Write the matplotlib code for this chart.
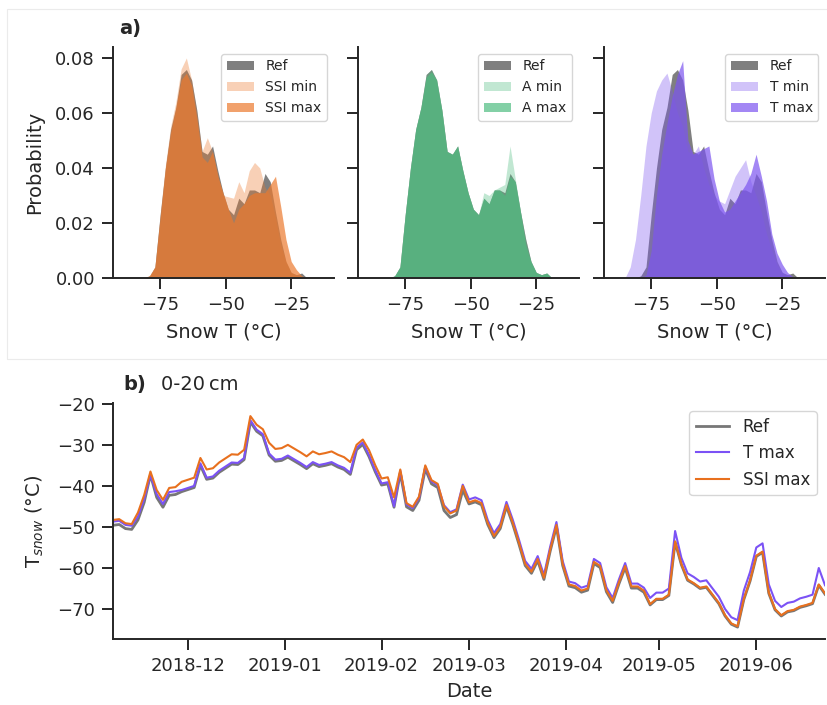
import numpy as np
import pandas as pd
import matplotlib
matplotlib.use("Agg")
import matplotlib.pyplot as plt
import matplotlib.dates as mdates
from matplotlib.patches import Rectangle

plt.rcParams['font.family'] = ['DejaVu Sans']
plt.rcParams['text.color'] = '#262626'
plt.rcParams['axes.labelcolor'] = '#262626'
plt.rcParams['xtick.color'] = '#262626'
plt.rcParams['ytick.color'] = '#262626'
plt.rcParams['axes.edgecolor'] = '#262626'

# --- histogram data (bin centres, probability) ---
bins = [-87, -85, -83, -81, -79, -77, -75, -73, -71, -69, -67, -65, -63, -61, -59, -57, -55, -53,
        -51, -49, -47, -45, -43, -41, -39, -37, -35, -33, -31, -29, -27, -25, -23, -21, -19, -17]

ref_hist = [0, 0, 0, 0, 0.0008, 0.004, 0.023, 0.040, 0.054, 0.062, 0.074, 0.0758, 0.072, 0.061, 0.046, 0.045, 0.048, 0.039,
            0.031, 0.025, 0.023, 0.029, 0.027, 0.032, 0.032, 0.031, 0.038, 0.035, 0.024, 0.014, 0.006, 0.002, 0.0012, 0.0018, 0, 0]

ssi_min_hist = [0, 0, 0, 0, 0.001, 0.004, 0.023, 0.041, 0.055, 0.064, 0.076, 0.080, 0.072, 0.060, 0.046, 0.051, 0.046, 0.038,
                0.030, 0.0295, 0.029, 0.035, 0.031, 0.039, 0.042, 0.040, 0.033, 0.030, 0.022, 0.012, 0.006, 0.002, 0.001, 0.0005, 0, 0]
ssi_max_hist = [0, 0, 0, 0, 0.0008, 0.004, 0.022, 0.040, 0.053, 0.062, 0.072, 0.0745, 0.070, 0.058, 0.044, 0.042, 0.046, 0.037,
                0.031, 0.025, 0.020, 0.025, 0.027, 0.030, 0.031, 0.031, 0.031, 0.034, 0.037, 0.026, 0.014, 0.006, 0.003, 0.0008, 0, 0]

a_min_hist = [0, 0, 0, 0, 0.0008, 0.004, 0.023, 0.040, 0.054, 0.062, 0.074, 0.0758, 0.072, 0.061, 0.046, 0.045, 0.048, 0.039,
              0.031, 0.025, 0.023, 0.031, 0.030, 0.032, 0.033, 0.034, 0.048, 0.036, 0.024, 0.014, 0.006, 0.002, 0.0012, 0.0018, 0, 0]
a_max_hist = [0, 0, 0, 0, 0.0008, 0.004, 0.023, 0.040, 0.054, 0.062, 0.073, 0.075, 0.072, 0.061, 0.046, 0.045, 0.048, 0.039,
              0.031, 0.025, 0.023, 0.029, 0.027, 0.032, 0.032, 0.030, 0.037, 0.035, 0.024, 0.012, 0.006, 0.002, 0.0012, 0.0018, 0, 0]

t_min_hist = [0, 0, 0.004, 0.014, 0.030, 0.048, 0.060, 0.068, 0.072, 0.0745, 0.068, 0.060, 0.055, 0.046, 0.045, 0.048, 0.040, 0.034,
              0.030, 0.028, 0.027, 0.032, 0.037, 0.040, 0.043, 0.035, 0.030, 0.024, 0.016, 0.010, 0.005, 0.002, 0.001, 0, 0, 0]
t_max_hist = [0, 0, 0, 0, 0, 0.001, 0.010, 0.030, 0.045, 0.056, 0.066, 0.074, 0.079, 0.050, 0.045, 0.046, 0.047, 0.048,
              0.036, 0.028, 0.024, 0.025, 0.028, 0.031, 0.034, 0.038, 0.045, 0.037, 0.028, 0.016, 0.009, 0.005, 0.002, 0.0005, 0, 0]

# --- time series, every 2 days from 2018-11-07 ---
ssi_max_line = [-48.3, -48.1, -49.1, -49.3, -46.5, -42.2, -36.5, -41.0, -43.4, -40.5, -40.3, -39.0, -38.5, -38.0, -33.2,
                -36.0, -35.7, -34.3, -33.3, -32.3, -32.4, -31.2, -23.0, -25.1, -26.2, -29.5, -31.0, -30.8, -30.0, -30.9,
                -31.8, -32.8, -31.6, -32.3, -32.0, -31.6, -32.4, -33.0, -34.2, -30.0, -28.7, -31.3, -35.0, -38.2, -37.9,
                -42.8, -36.0, -44.2, -45.1, -42.6, -35.0, -38.6, -39.5, -45.0, -46.7, -46.0, -40.0, -44.0, -43.5, -44.2,
                -49.0, -52.2, -50.0, -44.6, -48.9, -53.8, -59.0, -60.9, -57.8, -62.4, -55.5, -49.5, -59.0, -64.0, -64.4,
                -65.5, -65.0, -58.5, -59.5, -65.4, -68.0, -63.5, -59.5, -64.5, -64.5, -65.5, -68.8, -67.5, -67.5, -66.5,
                -53.5, -59.0, -62.8, -63.7, -64.8, -64.5, -66.5, -68.5, -71.5, -73.5, -74.2, -67.5, -63.0, -57.0, -56.0,
                -66.0, -70.0, -71.5, -70.5, -70.2, -69.4, -69.0, -68.5, -64.0, -66.2]

t_max_line = [-48.7, -48.5, -49.5, -49.7, -47.5, -43.2, -37.3, -42.0, -44.4, -41.5, -41.3, -41.0, -40.5, -40.0, -34.5,
              -38.0, -37.7, -36.3, -35.3, -34.3, -34.4, -33.2, -24.0, -26.3, -27.4, -32.1, -33.6, -33.4, -32.6, -33.5,
              -34.4, -35.4, -34.2, -34.9, -34.6, -34.2, -35.0, -35.6, -36.8, -30.7, -29.4, -32.5, -36.2, -39.4, -39.1,
              -45.0, -36.3, -44.5, -45.4, -42.9, -35.3, -38.9, -39.8, -44.7, -46.4, -45.7, -39.7, -43.3, -42.8, -43.5,
              -48.3, -51.5, -49.3, -43.9, -48.2, -53.1, -58.3, -60.2, -57.1, -61.7, -54.8, -48.8, -58.3, -63.3, -63.7,
              -64.8, -64.3, -57.8, -58.8, -64.7, -67.3, -62.8, -58.8, -63.8, -63.8, -64.8, -67.3, -66.0, -66.0, -65.0,
              -51.0, -57.5, -61.3, -62.2, -63.3, -63.0, -65.0, -67.0, -70.0, -72.0, -72.7, -65.5, -61.0, -55.0, -54.0,
              -64.0, -68.0, -69.5, -68.5, -68.2, -67.4, -67.0, -66.5, -60.0, -64.2]

ref_line = [-49.6, -49.4, -50.4, -50.6, -48.3, -44.0, -37.3, -42.8, -45.2, -42.3, -42.1, -41.4, -40.9, -40.4, -35.0,
            -38.4, -38.1, -36.7, -35.7, -34.7, -34.8, -33.6, -24.4, -26.7, -27.8, -32.5, -34.0, -33.8, -33.0, -33.9,
            -34.8, -35.8, -34.6, -35.3, -35.0, -34.6, -35.4, -36.0, -37.2, -31.2, -29.9, -32.9, -36.6, -39.8, -39.5,
            -45.2, -36.9, -45.1, -46.0, -43.5, -35.9, -39.5, -40.4, -46.0, -47.7, -47.0, -41.0, -44.4, -43.9, -44.6,
            -49.4, -52.6, -50.4, -45.0, -49.3, -54.2, -59.4, -61.3, -58.2, -62.8, -55.9, -49.9, -59.4, -64.4, -64.8,
            -65.9, -65.4, -58.9, -59.9, -65.8, -68.4, -63.9, -59.9, -64.9, -64.9, -65.9, -69.0, -67.7, -67.7, -66.7,
            -53.7, -59.2, -63.0, -63.9, -65.0, -64.7, -66.7, -68.7, -71.7, -73.7, -74.4, -67.7, -63.2, -57.2, -56.2,
            -66.2, -70.2, -71.7, -70.7, -70.4, -69.6, -69.2, -68.7, -64.2, -66.4]

dates = pd.date_range('2018-11-07', periods=len(ref_line), freq='2D')

orange = '#ec7a2e'
green = '#4fbd80'
purple = '#7c55f0'

fig = plt.figure(figsize=(8.27, 7.05), dpi=100)

# faint frame round the top row
fig.patches.append(Rectangle((7 / 827, 1 - 359 / 705), 1.0, (359 - 9) / 705, transform=fig.transFigure,
                             fill=False, edgecolor='#ebebeb', linewidth=0.8))

tick_kw = dict(labelsize=13, length=8, width=1.4, pad=5)

panels = [
    (0.1366, ssi_min_hist, ssi_max_hist, orange, 'SSI'),
    (0.4329, a_min_hist, a_max_hist, green, 'A'),
    (0.7304, t_min_hist, t_max_hist, purple, 'T'),
]
axes_top = []
for i, (left, hmin, hmax, col, name) in enumerate(panels):
    ax = fig.add_axes([left, 0.6057, 0.2675, 0.3277])
    ax.fill_between(bins, ref_hist, color='k', alpha=0.5, lw=0, label='Ref')
    ax.fill_between(bins, hmin, color=col, alpha=0.35, lw=0, label=f'{name} min')
    ax.fill_between(bins, hmax, color=col, alpha=0.7, lw=0, label=f'{name} max')
    ax.set_xlim(-93, -8.6)
    ax.set_ylim(0, 0.084)
    ax.set_xticks([-75, -50, -25])
    ax.set_yticks([0, 0.02, 0.04, 0.06, 0.08])
    ax.tick_params(**tick_kw)
    for s in ['top', 'right']:
        ax.spines[s].set_visible(False)
    for s in ['left', 'bottom']:
        ax.spines[s].set_linewidth(1.4)
    ax.set_xlabel('Snow T (°C)', fontsize=14, labelpad=6)
    if i == 0:
        ax.set_yticklabels(['0.00', '0.02', '0.04', '0.06', '0.08'])
        ax.set_ylabel('Probability', fontsize=14, labelpad=8)
    else:
        ax.set_yticklabels([])
    ax.legend(loc='upper right', fontsize=10, handlelength=2.0)
    axes_top.append(ax)

axes_top[0].text(0.03, 1.04, 'a)', transform=axes_top[0].transAxes, fontsize=14,
                 fontweight='bold', va='bottom', ha='left')

# bottom panel
ax = fig.add_axes([0.1366, 0.0936, 0.861, 0.3348])
ax.plot(dates, ref_line, color='#777777', lw=2.0, label='Ref')
ax.plot(dates, t_max_line, color='#7b52f5', lw=1.5, label='T max')
ax.plot(dates, ssi_max_line, color='#e8701e', lw=1.5, label='SSI max')
ax.set_xlim(dates[0], dates[-1])
ax.set_ylim(-77.3, -19.8)
ax.set_yticks([-70, -60, -50, -40, -30, -20])
ax.xaxis.set_major_locator(mdates.MonthLocator())
ax.xaxis.set_major_formatter(mdates.DateFormatter('%Y-%m'))
ax.tick_params(**tick_kw)
for s in ['top', 'right']:
    ax.spines[s].set_visible(False)
for s in ['left', 'bottom']:
    ax.spines[s].set_linewidth(1.4)
ax.set_xlabel('Date', fontsize=14, labelpad=5)
ax.set_ylabel('T$_{snow}$ (°C)', fontsize=14, labelpad=8)
ax.legend(loc='upper right', fontsize=12, handlelength=2.0)
ax.text(0.014, 1.04, 'b)', transform=ax.transAxes, fontsize=14, fontweight='bold', va='bottom', ha='left')
ax.text(0.068, 1.04, '0-20\u2009cm', transform=ax.transAxes, fontsize=14, va='bottom', ha='left')

fig.savefig('out.png', dpi=100)
